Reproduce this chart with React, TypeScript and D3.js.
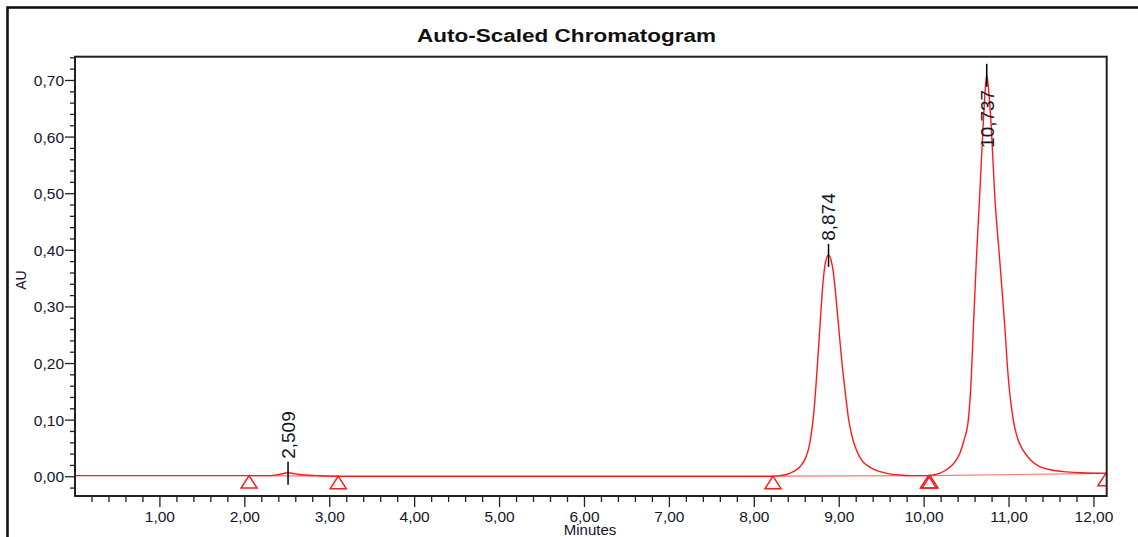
import React from 'react';
import * as d3 from 'd3';

// ---------- data ----------
const chartTitle = 'Auto-Scaled Chromatogram';
const xAxisLabel = 'Minutes';
const yAxisLabel = 'AU';

const xDomain: [number, number] = [0, 12.15];
const yDomain: [number, number] = [-0.034, 0.742];

const xMajorTicks = [1, 2, 3, 4, 5, 6, 7, 8, 9, 10, 11, 12];
const yMajorTicks = [0, 0.1, 0.2, 0.3, 0.4, 0.5, 0.6, 0.7];
const xMinorStep = 0.2;
const yMinorStep = 0.02;

// trace: time (min), absorbance (AU)
const traceTime = [
  0.0, 0.5, 1.0, 1.5, 2.0, 2.3, 2.4, 2.509, 2.6, 2.7, 2.85, 3.1, 4.0, 5.0, 6.0, 7.0, 7.8,
  8.2, 8.3, 8.38, 8.46, 8.54, 8.6, 8.64, 8.67, 8.7, 8.735, 8.775, 8.81, 8.84, 8.874,
  8.905, 8.93, 8.96, 8.99, 9.045, 9.08, 9.11, 9.15, 9.2, 9.27, 9.36, 9.46, 9.56, 9.71, 9.85, 10.0, 10.06,
  10.1, 10.18, 10.26, 10.34, 10.42, 10.47, 10.52, 10.555, 10.58, 10.615, 10.655, 10.695, 10.72, 10.737,
  10.755, 10.79, 10.83, 10.89, 10.95, 10.99, 11.05, 11.1, 11.165, 11.25, 11.36, 11.5, 11.64, 11.85, 12.15,
];
const traceAU = [
  0.002, 0.002, 0.002, 0.002, 0.002, 0.002, 0.004, 0.007, 0.005, 0.003, 0.002, 0.001, 0.001, 0.001, 0.001, 0.001, 0.001,
  0.001, 0.002, 0.004, 0.009, 0.018, 0.032, 0.05, 0.075, 0.112, 0.18, 0.27, 0.345, 0.38, 0.392,
  0.382, 0.362, 0.32, 0.27, 0.183, 0.138, 0.102, 0.072, 0.048, 0.028, 0.017, 0.01, 0.006, 0.003, 0.002, 0.002, 0.002,
  0.003, 0.006, 0.012, 0.022, 0.041, 0.065, 0.1, 0.175, 0.265, 0.383, 0.5, 0.62, 0.685, 0.71,
  0.69, 0.62, 0.5, 0.383, 0.265, 0.177, 0.1, 0.068, 0.047, 0.03, 0.018, 0.012, 0.009, 0.007, 0.006,
];

// detected peaks
const peakTime = [2.509, 8.874, 10.737];
const peakLabel = ['2,509', '8,874', '10,737'];
const peakApexAU = [0.007, 0.392, 0.71];

// peak start / end markers
const markerTime = [2.05, 3.1, 8.22, 10.05, 10.07, 12.14];
const markerAU = [0.002, 0.001, 0.001, 0.002, 0.002, 0.006];

// integration baselines (pairs of marker indices)
const baselineStart = [0, 2, 4];
const baselineEnd = [1, 3, 5];

// ---------- layout ----------
const W = 1138;
const H = 537;
const plotLeft = 75;
const plotRight = 1106.7;
const plotTop = 56.7;
const plotBottom = 496;

const FONT = '"Liberation Sans", Arial, Helvetica, sans-serif';
const RED = '#ff1a1a';
const INK = '#151525';

const commaLocale = d3.formatLocale({ decimal: ',', thousands: '.', grouping: [3], currency: ['', ''] });
const fmt2 = commaLocale.format('.2f');

export default function App() {
  const x = d3.scaleLinear().domain(xDomain).range([plotLeft, plotRight]);
  const y = d3.scaleLinear().domain(yDomain).range([plotBottom, plotTop]);

  const pts: [number, number][] = traceTime.map((t, i) => [t, traceAU[i]]);
  const line = d3
    .line<[number, number]>()
    .x((d) => x(d[0]))
    .y((d) => y(d[1]))
    .curve(d3.curveMonotoneX);
  const tracePath = line(pts) || '';

  const xMinor = d3.range(xMinorStep, xDomain[1], xMinorStep).filter(
    (v) => Math.abs(v - Math.round(v)) > 1e-6
  );
  const yMinor = d3.range(-0.02, yDomain[1], yMinorStep).filter(
    (v) => Math.abs(v * 10 - Math.round(v * 10)) > 1e-6
  );

  const tickFont = 15.5;
  const peakFont = 19;

  return (
    <svg
      width={W}
      height={H}
      viewBox={`0 0 ${W} ${H}`}
      style={{ position: 'absolute', left: 0, top: 0, display: 'block', background: '#fff' }}
    >
      <defs>
        <clipPath id="plotClip">
          <rect x={plotLeft} y={plotTop} width={plotRight - plotLeft} height={plotBottom - plotTop} />
        </clipPath>
      </defs>

      {/* outer frame */}
      <rect x={7.5} y={7.5} width={W + 20} height={H + 20} fill="#fff" stroke="#111" strokeWidth={2.6} />

      {/* title */}
      <text
        x={566.5}
        y={42}
        textAnchor="middle"
        fontFamily={FONT}
        fontWeight="bold"
        fontSize={18}
        textLength={299}
        lengthAdjust="spacingAndGlyphs"
        fill="#111"
      >
        {chartTitle}
      </text>

      {/* trace & baselines */}
      <g clipPath="url(#plotClip)">
        {baselineStart.map((s, i) => (
          <line
            key={'bl' + i}
            x1={x(markerTime[s])}
            y1={y(markerAU[s])}
            x2={x(markerTime[baselineEnd[i]])}
            y2={y(markerAU[baselineEnd[i]])}
            stroke={RED}
            strokeWidth={1.2}
            opacity={0.6}
          />
        ))}
        <path d={tracePath} fill="none" stroke={RED} strokeWidth={1.4} strokeLinejoin="round" />
        {markerTime.map((t, i) => {
          const cx = x(t);
          const cy = y(markerAU[i]);
          return (
            <path
              key={'m' + i}
              d={`M${cx},${cy} L${cx + 8},${cy + 12.5} L${cx - 8},${cy + 12.5} Z`}
              fill="#fff"
              fillOpacity={0}
              stroke={RED}
              strokeWidth={1.5}
            />
          );
        })}
      </g>

      {/* peak ticks & labels */}
      {peakTime.map((t, i) => {
        const px = x(t);
        const py = y(peakApexAU[i]);
        const estLen = peakLabel[i].length * 0.556 * peakFont;
        const above = py - 14 - estLen > plotTop;
        const ay = above ? py - 14 : py + 15;
        return (
          <g key={'p' + i}>
            <line x1={px} x2={px} y1={py - 11} y2={py + 12} stroke="#000" strokeWidth={1.5} />
            <text
              transform={`translate(${px},${ay}) rotate(-90)`}
              textAnchor={above ? 'start' : 'end'}
              dy="0.36em"
              fontFamily={FONT}
              fontSize={peakFont}
              fill={INK}
            >
              {peakLabel[i]}
            </text>
          </g>
        );
      })}

      {/* plot frame */}
      <rect
        x={plotLeft}
        y={plotTop}
        width={plotRight - plotLeft}
        height={plotBottom - plotTop}
        fill="none"
        stroke="#222"
        strokeWidth={2}
      />

      {/* y axis ticks */}
      {yMinor.map((v, i) => (
        <line key={'ym' + i} x1={plotLeft - 5} x2={plotLeft} y1={y(v)} y2={y(v)} stroke="#222" strokeWidth={1.3} />
      ))}
      {yMajorTicks.map((v, i) => (
        <g key={'yM' + i}>
          <line x1={plotLeft - 10} x2={plotLeft} y1={y(v)} y2={y(v)} stroke="#222" strokeWidth={1.3} />
          <text
            x={plotLeft - 11}
            y={y(v)}
            dy="0.36em"
            textAnchor="end"
            fontFamily={FONT}
            fontSize={tickFont}
            fill={INK}
          >
            {fmt2(v)}
          </text>
        </g>
      ))}

      {/* x axis ticks */}
      {xMinor.map((v, i) => (
        <line key={'xm' + i} x1={x(v)} x2={x(v)} y1={plotBottom} y2={plotBottom + 6} stroke="#222" strokeWidth={1.3} />
      ))}
      {xMajorTicks.map((v, i) => (
        <g key={'xM' + i}>
          <line x1={x(v)} x2={x(v)} y1={plotBottom} y2={plotBottom + 11} stroke="#222" strokeWidth={1.3} />
          <text
            x={x(v)}
            y={521.5}
            textAnchor="middle"
            fontFamily={FONT}
            fontSize={tickFont}
            fill={INK}
          >
            {fmt2(v)}
          </text>
        </g>
      ))}

      {/* axis labels */}
      <text x={590} y={534.5} textAnchor="middle" fontFamily={FONT} fontSize={15} fill={INK}>
        {xAxisLabel}
      </text>
      <text
        transform={`translate(20.5,280) rotate(-90)`}
        textAnchor="middle"
        dy="0.36em"
        fontFamily={FONT}
        fontSize={14}
        fill={INK}
      >
        {yAxisLabel}
      </text>
    </svg>
  );
}
